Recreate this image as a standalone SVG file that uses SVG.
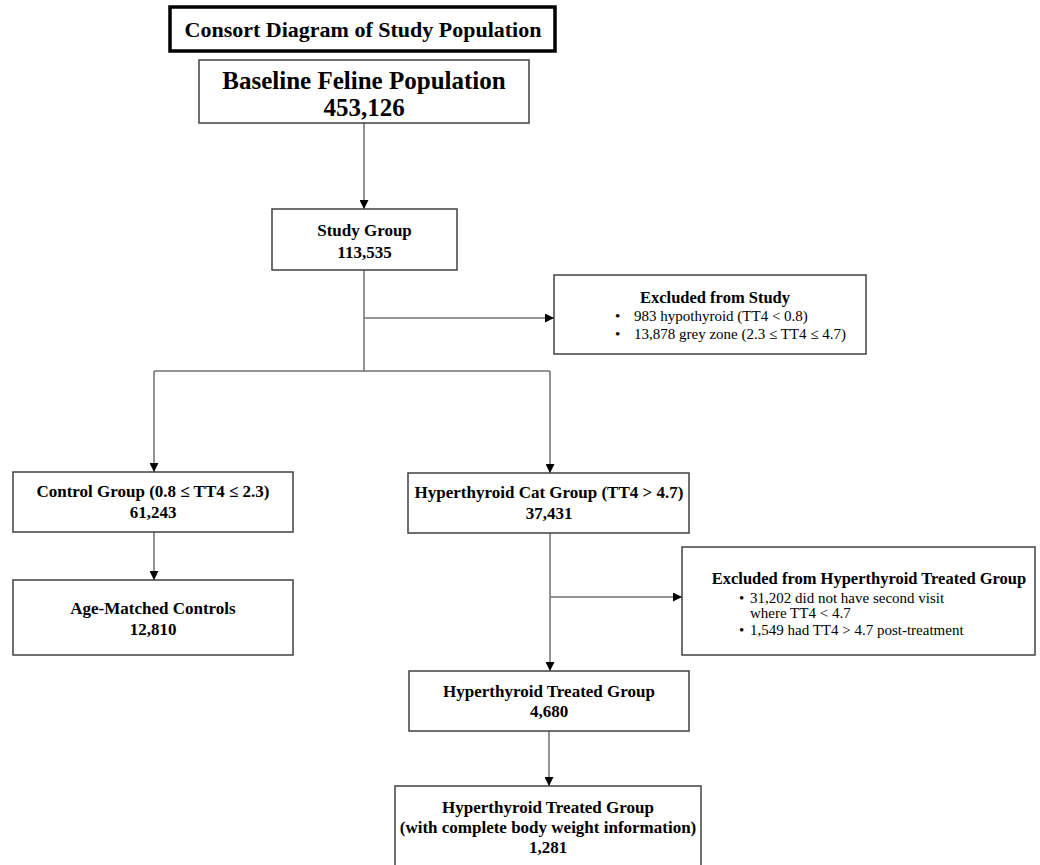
<svg xmlns="http://www.w3.org/2000/svg" width="1040" height="865" viewBox="0 0 1040 865">
<style>
.box{fill:#fff;stroke:#404040;stroke-width:1.5}
.tbox{fill:#fff;stroke:#000;stroke-width:3.5}
.b{font-family:"Liberation Serif","Times New Roman",serif;font-weight:bold;fill:#000}
.r{font-family:"Liberation Serif","Times New Roman",serif;fill:#000;font-size:15px}
.c{text-anchor:middle}
.n{font-size:17px}
.e{font-size:16.5px}
.conn line,.conn path{stroke:#707070;stroke-width:1.5;fill:none}
</style>
<defs>
<marker id="arr" viewBox="0 0 10 10" refX="10" refY="5" markerWidth="9" markerHeight="9" markerUnits="userSpaceOnUse" orient="auto">
<path d="M0,0 L10,5 L0,10 z" fill="#000"/>
</marker>
</defs>
<rect width="1040" height="865" fill="#fff"/>
<g class="conn">
<line x1="364" y1="123" x2="364" y2="209" marker-end="url(#arr)"/>
<line x1="364" y1="270" x2="364" y2="371"/>
<line x1="364" y1="318" x2="554" y2="318" marker-end="url(#arr)"/>
<line x1="154" y1="371" x2="550" y2="371"/>
<line x1="154" y1="371" x2="154" y2="472" marker-end="url(#arr)"/>
<line x1="550" y1="371" x2="550" y2="473" marker-end="url(#arr)"/>
<line x1="154" y1="532" x2="154" y2="580" marker-end="url(#arr)"/>
<line x1="550" y1="533" x2="550" y2="671" marker-end="url(#arr)"/>
<line x1="550" y1="597" x2="682" y2="597" marker-end="url(#arr)"/>
<line x1="549" y1="731" x2="549" y2="786" marker-end="url(#arr)"/>
</g>
<g id="title">
<rect class="tbox" x="170" y="7" width="385" height="44"/>
<text class="b c" x="363" y="37" font-size="22">Consort Diagram of Study Population</text>
</g>
<g id="baseline">
<rect class="box" x="199" y="60" width="330" height="63"/>
<text class="b c" x="364" y="89" font-size="25">Baseline Feline Population</text>
<text class="b c" x="364" y="116" font-size="25">453,126</text>
</g>
<g id="study">
<rect class="box" x="272" y="209" width="185" height="61"/>
<text class="b c n" x="364.5" y="236">Study Group</text>
<text class="b c n" x="364.5" y="258">113,535</text>
</g>
<g id="excl-study">
<rect class="box" x="554" y="275" width="312" height="79"/>
<text class="b c e" x="715" y="303">Excluded from Study</text>
<text class="r" x="615" y="321">•</text>
<text class="r" x="634" y="321">983 hypothyroid (TT4 &lt; 0.8)</text>
<text class="r" x="615" y="339">•</text>
<text class="r" x="634" y="339">13,878 grey zone (2.3 ≤ TT4 ≤ 4.7)</text>
</g>
<g id="control">
<rect class="box" x="13" y="472" width="280" height="60"/>
<text class="b c n" x="153" y="497">Control Group (0.8 ≤ TT4 ≤ 2.3)</text>
<text class="b c n" x="153" y="518">61,243</text>
</g>
<g id="agematched">
<rect class="box" x="13" y="580" width="280" height="75"/>
<text class="b c n" x="153" y="614">Age-Matched Controls</text>
<text class="b c n" x="153" y="635">12,810</text>
</g>
<g id="hypercat">
<rect class="box" x="408" y="473" width="281" height="60"/>
<text class="b c n" x="549" y="498">Hyperthyroid Cat Group (TT4 &gt; 4.7)</text>
<text class="b c n" x="549" y="519">37,431</text>
</g>
<g id="excl-ht">
<rect class="box" x="682" y="547" width="353" height="108"/>
<text class="b c e" x="869" y="584">Excluded from Hyperthyroid Treated Group</text>
<text class="r" x="739" y="603">•</text>
<text class="r" x="750" y="603">31,202 did not have second visit</text>
<text class="r" x="750" y="618"> where TT4 &lt; 4.7</text>
<text class="r" x="739" y="635">•</text>
<text class="r" x="750" y="635">1,549  had TT4 &gt; 4.7 post-treatment</text>
</g>
<g id="treated">
<rect class="box" x="409" y="671" width="280" height="60"/>
<text class="b c n" x="549" y="697">Hyperthyroid Treated Group</text>
<text class="b c n" x="549" y="717">4,680</text>
</g>
<g id="treated-bw">
<rect class="box" x="395" y="786" width="306" height="86"/>
<text class="b c n" x="548" y="813">Hyperthyroid Treated Group</text>
<text class="b c n" x="548" y="833">(with complete body weight information)</text>
<text class="b c n" x="548" y="853">1,281</text>
</g>
</svg>
